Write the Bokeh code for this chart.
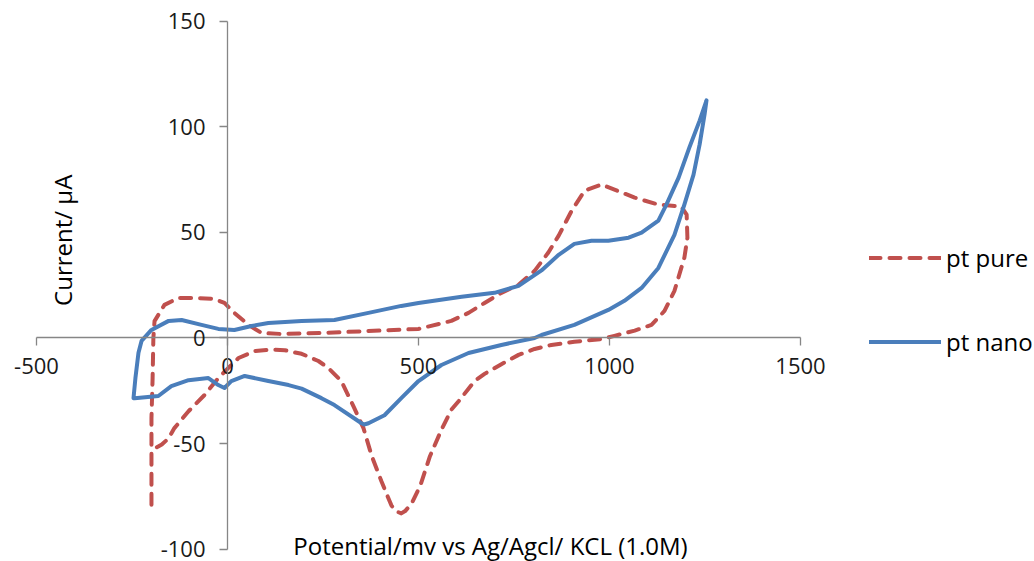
from bokeh.plotting import figure
from bokeh.models import Range1d, LinearAxis, Legend, LegendItem, Label, FixedTicker, PrintfTickFormatter
from bokeh.embed import file_html
from bokeh.resources import INLINE
import math

# pt pure (dashed red) cyclic voltammogram
pure_x = [-199, -199, -196, -194, -191, -165, -128, -86, -34, -8, 18, 55, 89, 141, 246,
          369, 500, 586, 631, 673, 717, 762, 804, 840, 867, 901, 935, 979, 1013, 1066,
          1128, 1188, 1202, 1204, 1196, 1188, 1170, 1144, 1110, 1066, 1013, 979, 908,
          848, 804, 762, 717, 673, 647, 631, 605, 586, 560, 530, 505, 482, 465, 455,
          440, 429, 403, 377, 356, 332, 298, 264, 238, 194, 150, 115, 71, 29, 10, -24,
          -60, -102, -139, -154, -172, -185, -196]
pure_y = [-79, -38, -19, 0, 8, 15.7, 19, 19, 18.5, 16.6, 11.9, 6.2, 2.4, 1.9, 2.4,
          3.3, 4.3, 8.1, 11.9, 16.6, 21.4, 25.2, 31.8, 40.5, 48.5, 60.3, 69.8, 72.7, 70.3, 66.5,
          63.2, 62.2, 58.4, 47.5, 38, 33.2, 22.3, 12.8, 6.2, 3.5, 1, -0.5, -1.8,
          -3.3, -5.2, -8, -12.4, -17, -20.4, -24, -30, -34, -43.5, -56, -69.8, -78.5, -82, -83.1,
          -82, -79.3, -67.9, -55.6, -42.7, -33.2, -20.4, -14.2, -10.9, -7.5, -5.8, -5.5, -6.2, -9.5, -12.8, -19,
          -27, -34.7, -42.7, -47.5, -50.5, -51.8, -50.8]

# pt nano (solid blue) cyclic voltammogram
nano_x = [-246, -241, -233, -225, -199, -154, -120, -68, -24, 18, 63, 107, 194, 280, 369,
          455, 500, 613, 699, 762, 822, 867, 908, 953, 997, 1050, 1084, 1128, 1149, 1181,
          1209, 1236, 1254, 1249, 1236, 1220, 1196, 1170, 1128, 1084, 1039, 997, 908, 822,
          804, 717, 631, 560, 500, 455, 411, 369, 358, 351, 280, 246, 194, 160, 107, 45, 10,
          -8, -24, -50, -102, -147, -181, -243]
nano_y = [-28.5, -19, -7, -1.4, 3.8, 8.1, 8.5, 6.2, 4.3, 3.8, 5.7, 7.1, 8.1, 8.5, 11.9,
          15.2, 16.6, 19.5, 21.4, 24.7, 32, 39.4, 44.6, 46.1, 46.1, 47.5, 49.9, 55.6, 63.2, 76,
          90.2, 103, 112.6, 106, 91.7, 77.4, 63.2, 48.9, 33.2, 23.7, 17.6, 13.3, 6.2, 1.4,
          0, -3.3, -7.1, -12.8, -20.4, -28.5, -36.6, -40.4, -41, -40.4, -31.8, -28.5, -24, -22.3, -20.4, -18, -20.4,
          -23.7, -22.3, -19, -20, -22.8, -27.5, -28.5]

x_ticks = [-500, 0, 500, 1000, 1500]
y_ticks = [-100, -50, 0, 50, 100, 150]
series_names = ["pt pure", "pt nano"]
x_title = "Potential/mv vs Ag/Agcl/ KCL (1.0M)"
y_title = "Current/ \u00b5A"

RED = "#C0504D"
BLUE = "#4A7EBB"
AXIS = "#868686"
FONT = "Open Sans"

# the frame covers the whole canvas; the axes are bounded to the chart's own extent
p = figure(frame_width=1034, frame_height=561,
           min_border_left=0, min_border_right=0, min_border_top=0, min_border_bottom=0,
           x_range=Range1d(-594.2, 2112.6), y_range=Range1d(-105.9, 159.9),
           x_axis_location=None, y_axis_location=None,
           output_backend="svg", toolbar_location=None)
p.outline_line_color = None
p.background_fill_color = "white"
p.border_fill_color = "white"
for g in p.grid:
    g.visible = False

xa = LinearAxis(fixed_location=0, ticker=FixedTicker(ticks=x_ticks),
                bounds=(x_ticks[0], x_ticks[-1]), formatter=PrintfTickFormatter(format="%d"))
ya = LinearAxis(fixed_location=0, ticker=FixedTicker(ticks=y_ticks),
                bounds=(y_ticks[0], y_ticks[-1]), formatter=PrintfTickFormatter(format="%d"))
for ax in (xa, ya):
    ax.axis_line_color = AXIS
    ax.axis_line_width = 1.3
    ax.major_tick_line_color = AXIS
    ax.major_tick_line_width = 1.3
    ax.major_tick_in = 0
    ax.major_tick_out = 8
    ax.minor_tick_line_color = None
    ax.major_label_text_font = FONT
    ax.major_label_text_font_size = "22px"
    ax.major_label_text_color = "#1a1a1a"
xa.major_label_standoff = 12
ya.major_label_standoff = 14
p.add_layout(xa, "below")
p.add_layout(ya, "left")

r_pure = p.line(pure_x, pure_y, line_color=RED, line_width=4, line_dash="11 9",
                line_cap="round", line_join="round")
r_nano = p.line(nano_x, nano_y, line_color=BLUE, line_width=4,
                line_cap="round", line_join="round")

legend = Legend(items=[LegendItem(label=series_names[0], renderers=[r_pure]),
                       LegendItem(label=series_names[1], renderers=[r_nano])],
                location=(869, 203), orientation="vertical",
                padding=0, margin=0, spacing=51, glyph_width=72, glyph_height=33,
                label_standoff=5, label_height=33,
                label_text_font=FONT, label_text_font_size="24px", label_text_color="#000000",
                background_fill_alpha=0, border_line_color=None)
p.add_layout(legend, "center")

p.add_layout(Label(x=-432, y=46.3, text=y_title, angle=math.pi / 2, angle_units="rad",
                   text_align="center", text_baseline="middle",
                   text_font=FONT, text_font_size="24px", text_color="#000000"))
p.add_layout(Label(x=688.5, y=-98.3, text=x_title,
                   text_align="center", text_baseline="middle",
                   text_font=FONT, text_font_size="24px", text_color="#000000"))

open("out.html", "w").write(file_html(p, INLINE))
